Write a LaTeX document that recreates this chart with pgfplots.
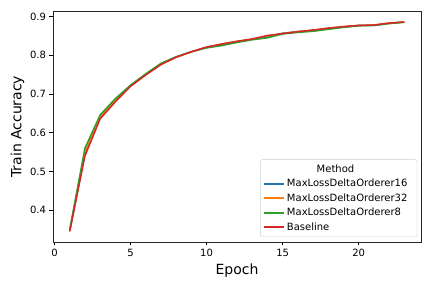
\documentclass[border=0pt]{standalone}
\usepackage{fontspec}
\setmainfont{DejaVu Sans}
\usepackage{pgfplots}
\pgfplotsset{compat=1.18}
\definecolor{tabblue}{HTML}{1F77B4}
\definecolor{taborange}{HTML}{FF7F0E}
\definecolor{tabgreen}{HTML}{2CA02C}
\definecolor{tabred}{HTML}{D62728}
\begin{document}
\begin{tikzpicture}
\begin{axis}[
  scale only axis,
  width=368pt, height=230.5pt,
  xmin=-0.1, xmax=24.1,
  ymin=0.318, ymax=0.913,
  xtick={0,5,10,15,20},
  ytick={0.4,0.5,0.6,0.7,0.8,0.9},
  yticklabel style={/pgf/number format/fixed,/pgf/number format/precision=1,/pgf/number format/fixed zerofill},
  /pgf/number format/assume math mode=true,
  tick label style={font=\fontsize{10}{12}\selectfont},
  tick align=outside,
  xtick pos=bottom, ytick pos=left,
  major tick length=3.5pt,
  every tick/.style={line width=0.8pt, black},
  axis line style={line width=0.8pt, black!85},
  xlabel={Epoch}, ylabel={Train Accuracy},
  label style={font=\fontsize{14}{16}\selectfont},
  xlabel style={yshift=0pt},
  ylabel style={yshift=-1pt},
  legend cell align=left,
  legend style={at={(axis cs:23.85,0.331)}, anchor=south east,
    font=\fontsize{10}{12}\selectfont, draw=black!20, rounded corners=2pt,
    fill=white, row sep=1.4pt, inner xsep=3pt, inner ysep=3pt},
  legend image code/.code={\draw[#1] (0pt,0pt) -- (20pt,0pt);},
]
\addlegendimage{empty legend}
\addlegendentry{\hspace*{-28pt}\makebox[153pt][c]{Method}}
\addlegendimage{draw=tabblue, line width=1.6pt}
\addlegendentry{MaxLossDeltaOrderer16}
\addlegendimage{draw=taborange, line width=1.6pt}
\addlegendentry{MaxLossDeltaOrderer32}
\addlegendimage{draw=tabgreen, line width=1.6pt}
\addlegendentry{MaxLossDeltaOrderer8}
\addlegendimage{draw=tabred, line width=1.6pt}
\addlegendentry{Baseline}
\addplot[tabblue, line width=1.5pt, forget plot] coordinates {
(1,0.347)(2,0.548)(3,0.640)(4,0.684)(5,0.721)(6,0.751)(7,0.778)(8,0.796)(9,0.809)(10,0.821)(11,0.828)(12,0.835)(13,0.841)(14,0.847)(15,0.857)(16,0.861)(17,0.864)(18,0.869)(19,0.873)(20,0.877)(21,0.877)(22,0.882)(23,0.886)};
\addplot[taborange, line width=1.5pt, forget plot] coordinates {
(1,0.347)(2,0.550)(3,0.641)(4,0.684)(5,0.721)(6,0.751)(7,0.777)(8,0.795)(9,0.809)(10,0.821)(11,0.829)(12,0.836)(13,0.842)(14,0.850)(15,0.856)(16,0.861)(17,0.865)(18,0.870)(19,0.874)(20,0.877)(21,0.878)(22,0.883)(23,0.886)};
\addplot[tabgreen, line width=1.5pt, forget plot] coordinates {
(1,0.350)(2,0.560)(3,0.646)(4,0.688)(5,0.723)(6,0.752)(7,0.779)(8,0.796)(9,0.809)(10,0.819)(11,0.825)(12,0.833)(13,0.840)(14,0.845)(15,0.855)(16,0.859)(17,0.862)(18,0.867)(19,0.872)(20,0.876)(21,0.877)(22,0.882)(23,0.885)};
\addplot[tabred, line width=1.5pt, forget plot] coordinates {
(1,0.345)(2,0.540)(3,0.636)(4,0.680)(5,0.720)(6,0.749)(7,0.776)(8,0.795)(9,0.809)(10,0.821)(11,0.829)(12,0.836)(13,0.842)(14,0.851)(15,0.856)(16,0.861)(17,0.865)(18,0.870)(19,0.874)(20,0.877)(21,0.878)(22,0.883)(23,0.886)};
\end{axis}
\path (-53pt,-46pt) rectangle (379pt,242pt);
\end{tikzpicture}
\end{document}
